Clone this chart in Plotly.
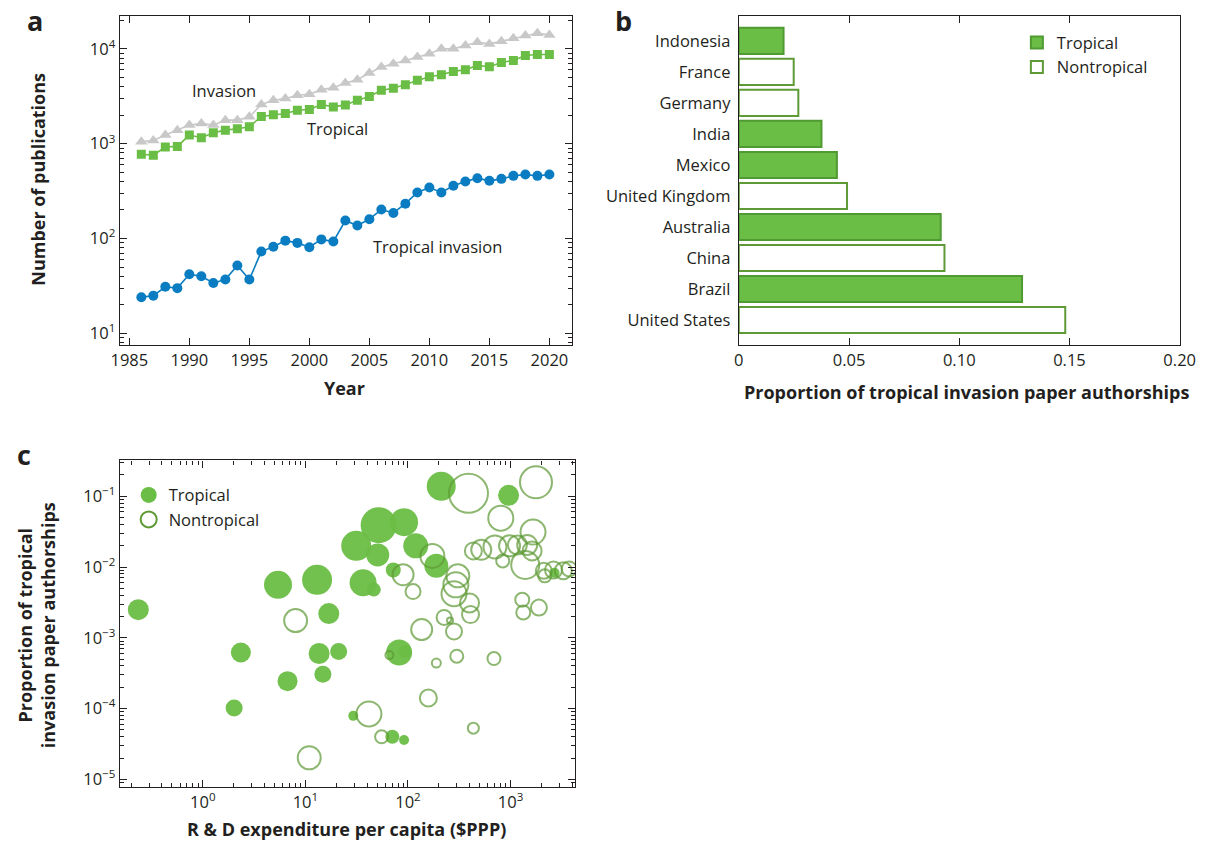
import plotly.graph_objects as go

# ---------------- Panel a data ----------------
years = list(range(1986, 2021))
invasion = [1050, 1084, 1233, 1390, 1570, 1635, 1570, 1771, 1771, 1919,
            2587, 2870, 2991, 3238, 3319, 3715, 3900, 4366, 4732, 5559,
            6426, 6966, 7550, 8185, 8873, 10000, 10000, 10840, 11750, 11280,
            12030, 12940, 13800, 14600, 14030]
tropical = [773, 755, 923, 937, 1233, 1156, 1304, 1390, 1436, 1507,
            1935, 2015, 2080, 2255, 2290, 2585, 2445, 2565, 2870, 3140,
            3656, 3838, 4193, 4653, 5086, 5337, 5784, 6025, 6686, 6471,
            7192, 7550, 8517, 8728, 8728]
tropical_invasion = [24, 25, 31, 30, 42, 40, 34, 37, 52, 37,
                     73, 82, 95, 90, 81, 98, 93, 155, 137, 160,
                     202, 186, 233, 306, 345, 306, 360, 399, 433, 406,
                     426, 458, 473, 458, 473]
a_xticks = [1985, 1990, 1995, 2000, 2005, 2010, 2015, 2020]
a_yticks = [10, 100, 1000, 10000]
a_yticktext = ["10<sup>1</sup>", "10<sup>2</sup>", "10<sup>3</sup>", "10<sup>4</sup>"]

# ---------------- Panel b data ----------------
countries = ["Indonesia", "France", "Germany", "India", "Mexico",
             "United Kingdom", "Australia", "China", "Brazil", "United States"]
proportions = [0.0203, 0.0249, 0.0270, 0.0375, 0.0445,
               0.0491, 0.0916, 0.0933, 0.1285, 0.1481]
is_tropical = [True, False, False, True, True, False, True, False, True, False]
b_xticks = [0, 0.05, 0.10, 0.15, 0.20]
b_xticktext = ["0", "0.05", "0.10", "0.15", "0.20"]

# ---------------- Panel c data ----------------
trop_rd = [0.235, 2.35, 2.02, 6.7, 13.6, 21.1, 14.8, 29.3, 5.41, 13.0,
           16.9, 51.8, 91.6, 31.3, 50.7, 119, 36.5, 46.4, 71.9, 189,
           211, 957, 2683, 82, 93.6, 70.4, 91.6]
trop_prop = [0.0025, 6.2e-4, 1.02e-4, 2.44e-4, 6.0e-4, 6.4e-4, 3.06e-4, 7.9e-5, 5.6e-3, 6.6e-3,
             2.2e-3, 0.039, 0.043, 0.0199, 0.0148, 0.0199, 6.0e-3, 4.8e-3, 9.1e-3, 0.0104,
             0.138, 0.103, 8.3e-3, 6.2e-4, 6.4e-4, 4.0e-5, 3.6e-5]
trop_size = [21, 20, 17, 20, 21, 17, 17, 10, 28, 30,
             21, 36, 28, 30, 23, 25, 27, 14, 15, 24,
             29, 21, 10, 26, 13, 14, 10]

non_rd = [8.03, 10.9, 41.6, 55.3, 65.9, 89.6, 112, 173, 136, 225,
          257, 281, 189, 299, 689, 158, 434, 389, 1770, 803,
          306, 293, 281, 398, 407, 1300, 1330, 1890, 434, 518,
          704, 977, 1167, 1452, 1656, 1622, 839, 1390, 2108, 2624,
          3268, 2154, 3725]
non_prop = [1.75e-3, 2.02e-5, 8.4e-5, 4.0e-5, 5.7e-4, 7.8e-3, 4.5e-3, 0.01435, 1.31e-3, 1.94e-3,
            1.75e-3, 1.23e-3, 4.4e-4, 5.5e-4, 5.1e-4, 1.41e-4, 5.3e-5, 0.110, 0.157, 0.049,
            7.5e-3, 5.6e-3, 4.2e-3, 3.1e-3, 2.13e-3, 3.46e-3, 2.28e-3, 2.67e-3, 0.0169, 0.0175,
            0.0192, 0.0199, 0.0205, 0.0205, 0.0312, 0.0169, 0.0122, 0.0107, 8.85e-3, 9.1e-3,
            8.85e-3, 7.5e-3, 9.4e-3]
non_size = [23, 23, 25, 13, 8, 21, 15, 24, 21, 15,
            6, 16, 9, 13, 13, 17, 11, 39, 32, 25,
            23, 25, 25, 19, 17, 14, 14, 16, 17, 20,
            23, 21, 19, 20, 25, 19, 13, 28, 16, 17,
            17, 13, 15]
c_xticks = [1, 10, 100, 1000]
c_xticktext = ["10<sup>0</sup>", "10<sup>1</sup>", "10<sup>2</sup>", "10<sup>3</sup>"]
c_yticks = [1e-5, 1e-4, 1e-3, 1e-2, 1e-1]
c_yticktext = ["10<sup>\u22125</sup>", "10<sup>\u22124</sup>", "10<sup>\u22123</sup>",
               "10<sup>\u22122</sup>", "10<sup>\u22121</sup>"]

# ---------------- styles ----------------
FONT = "Open Sans"
INK = "#231f20"
GRAY = "#c8c8c9"
GREEN = "#6abd45"
GREEN_EDGE = "#4f9a32"
RING = "#5e9a35"
BLUE = "#0a7dc2"

fig = go.Figure()

# Panel a
fig.add_trace(go.Scatter(x=years, y=invasion, mode="lines+markers", xaxis="x", yaxis="y",
                         line=dict(color=GRAY, width=1.6),
                         marker=dict(symbol="triangle-up", size=11, color=GRAY),
                         showlegend=False))
fig.add_trace(go.Scatter(x=years, y=tropical, mode="lines+markers", xaxis="x", yaxis="y",
                         line=dict(color=GREEN, width=1.6),
                         marker=dict(symbol="square", size=9, color=GREEN),
                         showlegend=False))
fig.add_trace(go.Scatter(x=years, y=tropical_invasion, mode="lines+markers", xaxis="x", yaxis="y",
                         line=dict(color=BLUE, width=1.6),
                         marker=dict(symbol="circle", size=10, color=BLUE),
                         showlegend=False))

# Panel b
trop_c = [c for c, t in zip(countries, is_tropical) if t]
trop_v = [v for v, t in zip(proportions, is_tropical) if t]
non_c = [c for c, t in zip(countries, is_tropical) if not t]
non_v = [v for v, t in zip(proportions, is_tropical) if not t]
fig.add_trace(go.Bar(y=trop_c, x=trop_v, orientation="h", xaxis="x2", yaxis="y2",
                     name="Tropical", width=0.84,
                     marker=dict(color=GREEN, line=dict(color=GREEN_EDGE, width=2)),
                     legend="legend"))
fig.add_trace(go.Bar(y=non_c, x=non_v, orientation="h", xaxis="x2", yaxis="y2",
                     name="Nontropical", width=0.84,
                     marker=dict(color="white", line=dict(color=RING, width=2)),
                     legend="legend"))

# Panel c
fig.add_trace(go.Scatter(x=trop_rd, y=trop_prop, mode="markers", xaxis="x3", yaxis="y3",
                         marker=dict(size=trop_size, color=GREEN, opacity=0.95, line=dict(width=0)),
                         showlegend=False))
fig.add_trace(go.Scatter(x=non_rd, y=non_prop, mode="markers", xaxis="x3", yaxis="y3",
                         marker=dict(size=non_size, color="rgba(255,255,255,0)",
                                     line=dict(color=RING, width=2)),
                         showlegend=False))
# legend entries for panel c
fig.add_trace(go.Scatter(x=[None], y=[None], mode="markers", xaxis="x3", yaxis="y3",
                         name="Tropical", marker=dict(size=20, color=GREEN),
                         legend="legend2"))
fig.add_trace(go.Scatter(x=[None], y=[None], mode="markers", xaxis="x3", yaxis="y3",
                         name="Nontropical",
                         marker=dict(size=20, color="rgba(255,255,255,0)", line=dict(color=RING, width=2)),
                         legend="legend2"))

TICKSIZE = 16.5
axis_common = dict(showline=True, linecolor=INK, linewidth=1.2, mirror="allticks",
                   ticks="inside", ticklen=7, tickcolor=INK, tickwidth=1.2,
                   showgrid=False, zeroline=False,
                   tickfont=dict(family=FONT, size=TICKSIZE, color=INK))

fig.update_layout(
    width=1222, height=847,
    margin=dict(l=0, r=0, t=0, b=0),
    paper_bgcolor="white", plot_bgcolor="white",
    font=dict(family=FONT, color=INK),
    barmode="overlay",
    xaxis=dict(axis_common, domain=[0.0925, 0.4705], range=[1984.2, 2021.9],
               tickvals=a_xticks, anchor="y"),
    yaxis=dict(axis_common, domain=[0.5915, 0.981], type="log", range=[0.88, 4.346],
               tickvals=a_yticks, ticktext=a_yticktext, anchor="x",
               minor=dict(ticks="inside", ticklen=4, tickcolor=INK, dtick="D1", showgrid=False)),
    xaxis2=dict(axis_common, domain=[0.6097, 0.978], range=[0, 0.2],
                tickvals=b_xticks, ticktext=b_xticktext, anchor="y2"),
    yaxis2=dict(axis_common, domain=[0.5915, 0.981], type="category",
                categoryorder="array", categoryarray=countries[::-1],
                range=[-0.8, 9.8], ticks="", mirror=True, anchor="x2",
                ticklabelstandoff=4),
    xaxis3=dict(axis_common, domain=[0.0925, 0.473], type="log", range=[-0.81, 3.63],
                tickvals=c_xticks, ticktext=c_xticktext, anchor="y3",
                minor=dict(ticks="inside", ticklen=4, tickcolor=INK, dtick="D1", showgrid=False)),
    yaxis3=dict(axis_common, domain=[0.0673, 0.4545], type="log", range=[-5.11, -0.494],
                tickvals=c_yticks, ticktext=c_yticktext, anchor="x3",
                minor=dict(ticks="inside", ticklen=4, tickcolor=INK, dtick="D1", showgrid=False)),
    legend=dict(x=0.842, y=0.97, xanchor="left", yanchor="top",
                font=dict(family=FONT, size=16.5, color=INK), bgcolor="rgba(0,0,0,0)",
                tracegroupgap=4),
    legend2=dict(x=0.1, y=0.434, xanchor="left", yanchor="top",
                 font=dict(family=FONT, size=16.5, color=INK), bgcolor="rgba(0,0,0,0)"),
)

def ann(text, x, y, size=16.5, bold=False, angle=0, xanchor="center", yanchor="middle"):
    t = f"<b>{text}</b>" if bold else text
    fig.add_annotation(text=t, x=x, y=y, xref="paper", yref="paper", showarrow=False,
                       textangle=angle, xanchor=xanchor, yanchor=yanchor,
                       font=dict(family=FONT, size=size, color=INK))

# panel letters
ann("a", 27 / 1222, 1 - 21 / 847, size=27, bold=True)
ann("b", 627 / 1222, 1 - 21 / 847, size=27, bold=True)
ann("c", 15 / 1222, 1 - 456 / 847, size=27, bold=True)

# series labels
ann("Invasion", 220 / 1222, 1 - 91 / 847)
ann("Tropical", 335 / 1222, 1 - 129 / 847)
ann("Tropical invasion", 437 / 1222, 1 - 247 / 847)

# axis titles
TSIZE = 18
ann("Number of publications", 30 / 1222, 1 - 180 / 847, size=TSIZE, bold=True, angle=-90)
ann("Year", 343 / 1222, 1 - 389 / 847, size=TSIZE, bold=True)
ann("Proportion of tropical invasion paper authorships", 977 / 1222, 1 - 393 / 847, size=TSIZE, bold=True)
ann("Proportion of tropical<br>invasion paper authorships", 28 / 1222, 1 - 627 / 847,
    size=TSIZE, bold=True, angle=-90)
ann("R &amp; D expenditure per capita ($PPP)", 345 / 1222, 1 - 832 / 847, size=TSIZE, bold=True)

fig.write_html("out.html", config={"displayModeBar": False},
               post_script="document.body.style.margin='0';")
